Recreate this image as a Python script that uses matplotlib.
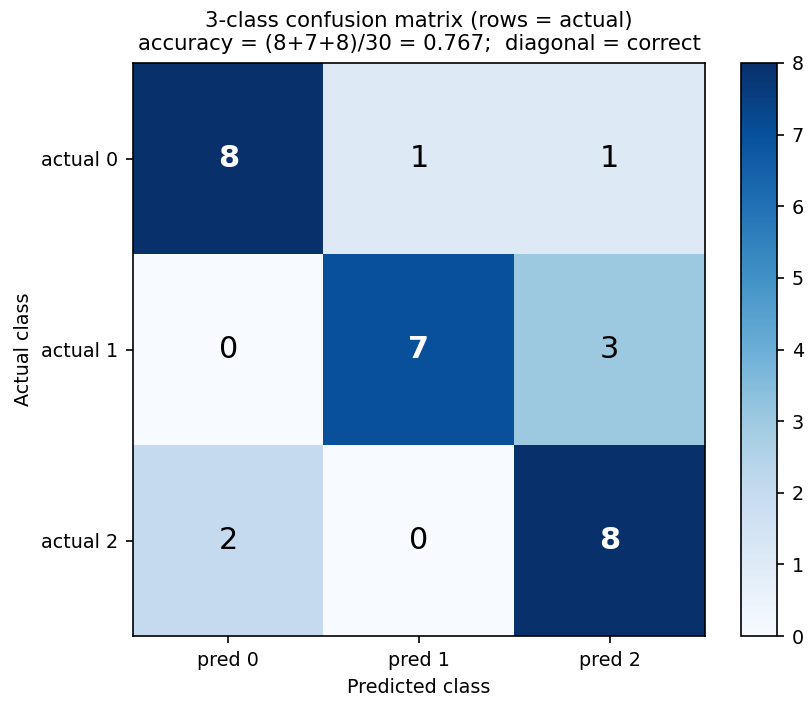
import matplotlib
matplotlib.use("Agg")
import matplotlib.pyplot as plt
import numpy as np

pred_labels = ["pred 0", "pred 1", "pred 2"]
actual_labels = ["actual 0", "actual 1", "actual 2"]
matrix = [[8, 1, 1],
          [0, 7, 3],
          [2, 0, 8]]

plt.rcParams["font.size"] = 9.2
cm = np.array(matrix)
fig = plt.figure(figsize=(5.4, 710/150), dpi=150)
ax = fig.add_axes([133/810, 74/710, 572/810, 573/710])
cax = fig.add_axes([741/810, 74/710, 36/810, 573/710])
im = ax.imshow(cm, cmap="Blues", vmin=0, vmax=8, aspect="auto")
fig.colorbar(im, cax=cax)
ax.set_xticks(range(3))
ax.set_xticklabels(pred_labels)
ax.set_yticks(range(3))
ax.set_yticklabels(actual_labels)
ax.set_xlabel("Predicted class")
ax.set_ylabel("Actual class")
ax.set_title("3-class confusion matrix (rows = actual)\naccuracy = (8+7+8)/30 = 0.767;  diagonal = correct", fontsize=10.2)
for i in range(3):
    for j in range(3):
        if i == j:
            ax.text(j, i, str(cm[i, j]), ha="center", va="center", fontsize=14.5, color="white", fontweight="bold")
        else:
            ax.text(j, i, str(cm[i, j]), ha="center", va="center", fontsize=14.5, color="black")
fig.savefig("out.png", dpi=150)
